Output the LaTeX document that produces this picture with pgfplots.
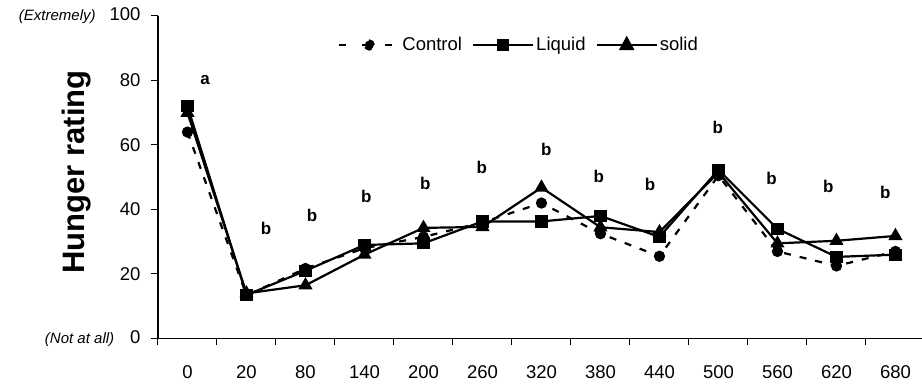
\documentclass[border=0pt]{standalone}
\usepackage{fontspec}
\setmainfont{Liberation Sans}
\usepackage{pgfplots}
\usepackage{pgfplotstable}
\pgfplotsset{compat=1.18}
\pgfplotstableread{
x y
0 64
1 13.4
2 21.7
3 28
4 31.5
5 36
6 42
7 32.5
8 25.5
9 50.5
10 27
11 22.5
12 27
}\control
\pgfplotstableread{
x y
0 72
1 13.5
2 21
3 29
4 29.5
5 36.3
6 36.3
7 38
8 31.5
9 52.3
10 34
11 25.3
12 26
}\liquid
\pgfplotstableread{
x y
0 70
1 14
2 16.5
3 26
4 34.3
5 34.6
6 46.8
7 34.5
8 33
9 51.5
10 29.5
11 30.3
12 31.8
}\solid
\pgfplotstableread{
x y lab
0.30 80 a
1.33 34 b
2.11 38.2 b
3.03 43.9 b
4.03 48.1 b
4.99 53.1 b
6.08 58.6 b
6.97 50.4 b
7.84 47.7 b
8.99 65.6 b
9.90 49.6 b
10.86 47.2 b
11.83 45.4 b
}\letters
\begin{document}
\begin{tikzpicture}
\useasboundingbox (0pt,0pt) rectangle (922pt,387pt);
\begin{axis}[
  at={(158pt,48.5pt)}, anchor=south west,
  scale only axis, width=764pt, height=322.5pt,
  xmin=-0.5, xmax=12.45, ymin=0, ymax=100,
  axis lines=left, axis line style={-, line width=1.1pt},
  clip=false,
  xtick={0,...,12},
  xticklabels={0,20,80,140,200,260,320,380,440,500,560,620,680},
  major x tick style={draw=none},
  minor xtick={-0.5,0.5,...,12.5},
  ytick={0,20,40,60,80,100},
  yticklabels={{{\fontsize{15}{18}\selectfont\itshape (Not at all)}\hspace{16pt}0},20,40,60,80,{{\fontsize{15}{18}\selectfont\itshape (Extremely)}\hspace{14pt}100}},
  tick align=outside,
  major tick length=7pt, minor tick length=7pt,
  tick style={black, line width=1pt},
  /pgf/number format/assume math mode=true,
  tick label style={font=\fontsize{18.5}{21}\selectfont},
  xticklabel style={anchor=base, yshift=-33pt},
  yticklabel style={anchor=east, xshift=-7pt},
  ylabel={Hunger rating},
  ylabel style={at={(axis description cs:-0.106,0.516)}, anchor=center, font=\fontsize{31}{36}\selectfont\bfseries},
  legend columns=3,
  legend style={at={(rel axis cs:0.2356,0.91)}, anchor=west, draw=none, fill=none, inner sep=0pt,
    font=\fontsize{18.5}{21}\selectfont,
    /tikz/every even column/.append style={column sep=8pt}},
  legend cell align=left,
]
\addplot[black, line width=2.2pt, dash pattern=on 7pt off 9pt, mark=*, mark size=4.5pt, mark options={solid},
  legend image code/.code={\draw[black, line width=2.2pt, dash pattern=on 7pt off 16pt] (0pt,0pt) -- (60pt,0pt); \fill[black] (30pt,0pt) circle (4.5pt);}]
  table[x=x,y=y] {\control};
\addlegendentry{Control}
\addplot[black, line width=2.2pt, mark=square*, mark size=5pt,
  legend image code/.code={\draw[black, line width=2.2pt] (0pt,0pt) -- (60pt,0pt); \fill[black] (25pt,-5pt) rectangle (35pt,5pt);}]
  table[x=x,y=y] {\liquid};
\addlegendentry{Liquid}
\addplot[black, line width=2.2pt, mark=triangle*, mark size=6pt,
  legend image code/.code={\draw[black, line width=2.2pt] (0pt,0pt) -- (60pt,0pt); \fill[black] (24pt,-4pt) -- (36pt,-4pt) -- (30pt,7pt) -- cycle;}]
  table[x=x,y=y] {\solid};
\addlegendentry{solid}
\addplot[draw=none, mark=none, forget plot, nodes near coords, point meta=explicit symbolic,
  nodes near coords style={anchor=center, font=\fontsize{17}{20}\selectfont\bfseries}]
  table[x=x,y=y,meta=lab] {\letters};
\end{axis}
\end{tikzpicture}
\end{document}
